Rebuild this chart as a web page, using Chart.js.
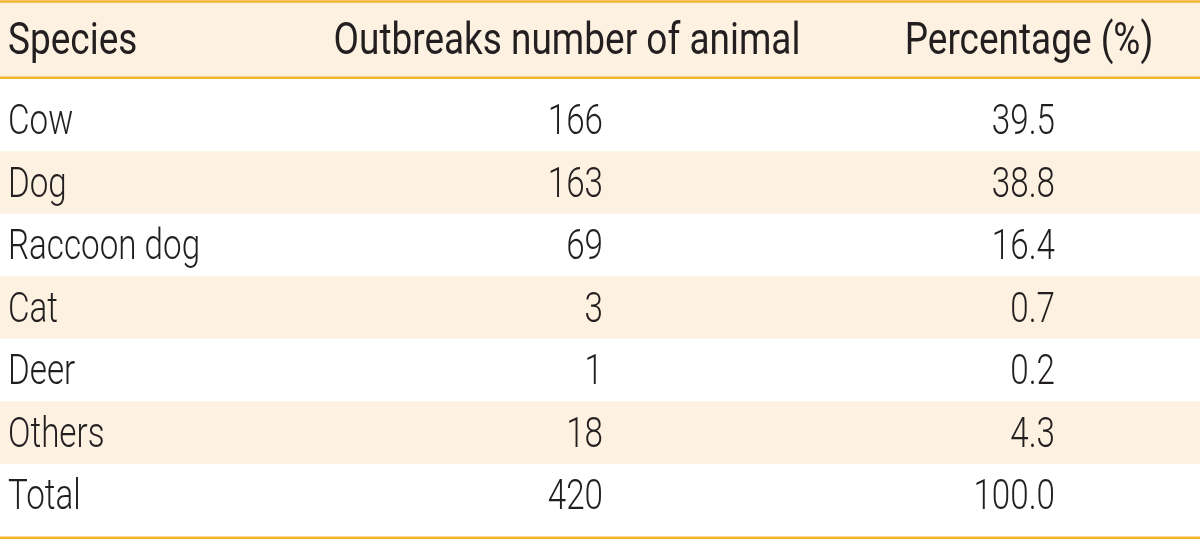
<!DOCTYPE html>
<html>
<head>
<meta charset="utf-8">
<script src="https://cdn.jsdelivr.net/npm/chart.js@4.4.1/dist/chart.umd.min.js"></script>
<style>
  body { margin: 0; background: #ffffff; }
</style>
</head>
<body>
<canvas id="table" width="1200" height="539"></canvas>
<script>
// table content
const headers = ['Species', 'Outbreaks number of animal', 'Percentage (%)'];
const species = ['Cow', 'Dog', 'Raccoon dog', 'Cat', 'Deer', 'Others', 'Total'];
const outbreaks = [166, 163, 69, 3, 1, 18, 420];
const percentage = [39.5, 38.8, 16.4, 0.7, 0.2, 4.3, 100.0];

// layout (row index units on y, pixels on x)
const HEADER_ROW = -1.28;
const shadedRows = [1, 3, 5];
const colX = [8, 603, 1055];        // body anchors
const colAlign = ['left', 'right', 'right'];
const headX = [8, 567, 1029];       // header anchors
const headAlign = ['left', 'center', 'center'];

const ORANGE = '#f1b52c';
const BEIGE = '#fdf2e1';
const INK = '#231f20';

const bodyCells = [
    species.map((s, i) => ({ x: colX[0], y: i })),
    outbreaks.map((v, i) => ({ x: colX[1], y: i })),
    percentage.map((v, i) => ({ x: colX[2], y: i }))
];
const bodyText = [
    species,
    outbreaks.map(v => String(v)),
    percentage.map(v => v.toFixed(1))
];

const datasets = bodyCells.map((cells, c) => ({
    label: headers[c],
    data: cells,
    pointRadius: 0,
    pointHoverRadius: 0,
    cellText: bodyText[c],
    align: colAlign[c]
}));
datasets.push({
    label: 'header',
    data: headX.map(x => ({ x: x, y: HEADER_ROW })),
    pointRadius: 0,
    pointHoverRadius: 0,
    cellText: headers,
    header: true
});

function drawCondensed(ctx, text, x, y, align, scale) {
    ctx.save();
    ctx.translate(x, y);
    ctx.scale(scale, 1);
    ctx.textAlign = align;
    ctx.fillText(text, 0, 0);
    ctx.restore();
}

const tablePlugin = {
    id: 'tablePlugin',
    beforeDatasetsDraw(chart) {
        const ctx = chart.ctx;
        const x = chart.scales.x, y = chart.scales.y;
        const left = x.getPixelForValue(0), right = x.getPixelForValue(1200);

        ctx.save();
        // header band
        ctx.fillStyle = BEIGE;
        let t = y.getPixelForValue(-1.88), b = y.getPixelForValue(-0.68);
        ctx.fillRect(left, t, right - left, b - t);
        // alternating rows
        shadedRows.forEach(r => {
            const top = y.getPixelForValue(r - 0.5), bot = y.getPixelForValue(r + 0.5);
            ctx.fillRect(left, top, right - left, bot - top);
        });
        // rules
        ctx.strokeStyle = ORANGE;
        ctx.lineWidth = 2.5;
        [-1.896, -0.675, 6.683].forEach(v => {
            const p = y.getPixelForValue(v);
            ctx.beginPath();
            ctx.moveTo(left, p);
            ctx.lineTo(right, p);
            ctx.stroke();
        });
        ctx.restore();
    },
    afterDatasetsDraw(chart) {
        const ctx = chart.ctx;
        ctx.save();
        ctx.fillStyle = INK;
        ctx.textBaseline = 'alphabetic';
        chart.data.datasets.forEach((ds, di) => {
            const meta = chart.getDatasetMeta(di);
            meta.data.forEach((pt, i) => {
                if (ds.header) {
                    ctx.font = '400 44px Roboto';
                    drawCondensed(ctx, ds.cellText[i], pt.x, pt.y + 14, headAlign[i], 0.84);
                } else {
                    ctx.font = '300 42px Roboto';
                    drawCondensed(ctx, ds.cellText[i], pt.x, pt.y + 14, ds.align, 0.79);
                }
            });
        });
        ctx.restore();
    }
};

new Chart(document.getElementById('table'), {
    type: 'scatter',
    data: { datasets: datasets },
    options: {
        responsive: false,
        animation: false,
        layout: { padding: 0 },
        plugins: { legend: { display: false }, tooltip: { enabled: false } },
        scales: {
            x: { type: 'linear', min: 0, max: 1200, display: false },
            y: { type: 'linear', min: -1.92, max: 6.704, reverse: true, display: false }
        }
    },
    plugins: [tablePlugin]
});
</script>
</body>
</html>
